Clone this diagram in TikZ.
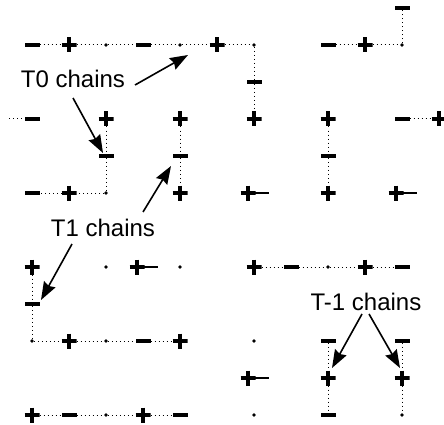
\documentclass[tikz,border=0pt]{standalone}
\usepackage{fontspec}
\setmainfont{Liberation Sans}
\usetikzlibrary{arrows.meta}
\begin{document}
\begin{tikzpicture}[x=1pt,y=-1pt,
  site/.style={inner sep=0pt, outer sep=0pt, rectangle, minimum width=15pt},
  plussite/.style={site, minimum height=15pt, path picture={\draw[line width=4pt]
      (path picture bounding box.west) -- (path picture bounding box.east)
      (path picture bounding box.north) -- (path picture bounding box.south);}},
  minussite/.style={site, minimum height=3.8pt, fill=black},
  thinminus/.style={site, minimum height=2.8pt, fill=black},
  zerosite/.style={circle, fill=black, inner sep=0pt, outer sep=0pt, minimum size=3.8pt},
  chain/.style={line width=1pt, dash pattern=on 1pt off 3pt},
  lbl/.style={font=\fontsize{24}{28}\selectfont, anchor=base, inner sep=0pt},
  pointer/.style={line width=1.6pt, arrows={-Stealth[length=18pt,width=13pt,inset=2pt]}}]
\useasboundingbox (0,0) rectangle (444,425);
% sites: x = 32+37c, y = 8+37r
% row 0
\node[minussite] (n10-0) at (402,8) {};
% row 1
\node[minussite] (n0-1) at (32,45) {};
\node[plussite] (n1-1) at (69,45) {};
\node[zerosite] (n2-1) at (106,45) {};
\node[minussite] (n3-1) at (143,45) {};
\node[zerosite] (n4-1) at (180,45) {};
\node[plussite] (n5-1) at (217,45) {};
\node[zerosite] (n6-1) at (254,45) {};
\node[minussite] (n8-1) at (328,45) {};
\node[plussite] (n9-1) at (365,45) {};
\node[zerosite] (n10-1) at (402,45) {};
% row 2
\node[minussite] (n6-2) at (254,82) {};
% row 3
\coordinate (edge3) at (9,119);
\node[minussite] (n0-3) at (32,119) {};
\node[plussite] (n2-3) at (106,119) {};
\node[plussite] (n4-3) at (180,119) {};
\node[plussite] (n6-3) at (254,119) {};
\node[plussite] (n8-3) at (328,119) {};
\node[minussite] (n10-3) at (402,119) {};
\node[plussite] (n11-3) at (439,119) {};
% row 4
\node[minussite] (n2-4) at (106,156) {};
\node[minussite] (n4-4) at (180,156) {};
\node[minussite] (n8-4) at (328,156) {};
% row 5
\node[minussite] (n0-5) at (32,193) {};
\node[plussite] (n1-5) at (69,193) {};
\node[zerosite] (n2-5) at (106,193) {};
\node[plussite] (n4-5) at (180,193) {};
\node[plussite] (p6-5) at (248,193) {};
\node[thinminus] (m6-5) at (261,193) {};
\node[plussite] (n8-5) at (328,193) {};
\node[plussite] (p10-5) at (396,193) {};
\node[thinminus] (m10-5) at (409,193) {};
% row 7
\node[plussite] (n0-7) at (32,267) {};
\node[zerosite] (n2-7) at (106,267) {};
\node[plussite] (p3-7) at (137,267) {};
\node[thinminus] (m3-7) at (150,267) {};
\node[zerosite] (n4-7) at (180,267) {};
\node[plussite] (n6-7) at (254,267) {};
\node[minussite] (n7-7) at (291,267) {};
\node[zerosite] (n8-7) at (328,267) {};
\node[plussite] (n9-7) at (365,267) {};
\node[minussite] (n10-7) at (402,267) {};
% row 8
\node[minussite] (n0-8) at (32,304) {};
% row 9
\node[zerosite] (n0-9) at (32,341) {};
\node[plussite] (n1-9) at (69,341) {};
\node[zerosite] (n2-9) at (106,341) {};
\node[minussite] (n3-9) at (143,341) {};
\node[plussite] (n4-9) at (180,341) {};
\node[zerosite] (n6-9) at (254,341) {};
\node[minussite] (n8-9) at (328,341) {};
\node[minussite] (n10-9) at (402,341) {};
% row 10
\node[plussite] (p6-10) at (248,378) {};
\node[thinminus] (m6-10) at (261,378) {};
\node[plussite] (n8-10) at (328,378) {};
\node[plussite] (n10-10) at (402,378) {};
% row 11
\node[plussite] (n0-11) at (32,415) {};
\node[minussite] (n1-11) at (69,415) {};
\node[zerosite] (n2-11) at (106,415) {};
\node[plussite] (n3-11) at (143,415) {};
\node[minussite] (n4-11) at (180,415) {};
\node[zerosite] (n6-11) at (254,415) {};
\node[minussite] (n8-11) at (328,415) {};
\node[zerosite] (n10-11) at (402,415) {};
% chains
\draw[chain] (n0-1) -- (n1-1) -- (n2-1) -- (n3-1) -- (n4-1) -- (n5-1) -- (n6-1) -- (n6-2) -- (n6-3);
\draw[chain] (n8-1) -- (n9-1) -- (n10-1) -- (n10-0);
\draw[chain] (edge3) -- (n0-3);
\draw[chain] (n10-3) -- (n11-3);
\draw[chain] (n2-3) -- (n2-4) -- (n2-5) -- (n1-5) -- (n0-5);
\draw[chain] (n4-3) -- (n4-4) -- (n4-5);
\draw[chain] (n8-3) -- (n8-4) -- (n8-5);
\draw[chain] (n6-7) -- (n7-7) -- (n8-7) -- (n9-7) -- (n10-7);
\draw[chain] (n0-7) -- (n0-8) -- (n0-9) -- (n1-9) -- (n2-9) -- (n3-9) -- (n4-9);
\draw[chain] (n8-9) -- (n8-10) -- (n8-11);
\draw[chain] (n10-9) -- (n10-10) -- (n10-11);
\draw[chain] (n0-11) -- (n1-11) -- (n2-11) -- (n3-11) -- (n4-11);
% labels
\node[lbl] (t0) at (73,88) {T0 chains};
\node[lbl] (t1) at (103,236) {T1 chains};
\node[lbl] (tm1) at (366,310) {T-1 chains};
\coordinate (a0s) at (135,85);
\coordinate (a0e) at (188,55);
\coordinate (b0s) at (73,98);
\coordinate (b0e) at (103,153);
\coordinate (a1s) at (143,212);
\coordinate (a1e) at (171,166);
\coordinate (b1s) at (72,244);
\coordinate (b1e) at (41,300);
\coordinate (am1s) at (362,314);
\coordinate (am1e) at (332,368);
\coordinate (bm1s) at (369,314);
\coordinate (bm1e) at (400,368);
\draw[pointer] (a0s) -- (a0e);
\draw[pointer] (b0s) -- (b0e);
\draw[pointer] (a1s) -- (a1e);
\draw[pointer] (b1s) -- (b1e);
\draw[pointer] (am1s) -- (am1e);
\draw[pointer] (bm1s) -- (bm1e);
\end{tikzpicture}
\end{document}
